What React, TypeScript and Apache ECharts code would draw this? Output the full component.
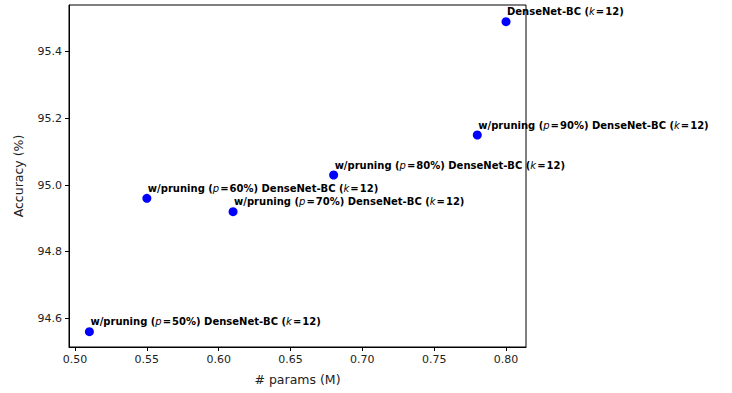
import React, { useEffect, useRef } from "react";
import * as echarts from "echarts";

const paramsM = [0.51, 0.55, 0.61, 0.68, 0.78, 0.8];
const accuracy = [94.56, 94.96, 94.92, 95.03, 95.15, 95.49];
const pruning = ["50%", "60%", "70%", "80%", "90%", ""];
const xTicks = [0.5, 0.55, 0.6, 0.65, 0.7, 0.75, 0.8];
const yTicks = [94.6, 94.8, 95.0, 95.2, 95.4];

const FONT = "DejaVu Sans";

function labelFor(p: string): string {
  const tail = "{b|DenseNet-BC (}{i|k}{e|=}{b|12)}";
  if (!p) return tail;
  return "{b|w/pruning (}{i|p}{e|=}{b|" + p + ") }" + tail;
}

export default function App() {
  const ref = useRef<HTMLDivElement>(null);
  useEffect(() => {
    if (!ref.current) return;
    const chart = echarts.init(ref.current, undefined, { renderer: "svg" });
    const data = paramsM.map((x, i) => ({
      value: [x, accuracy[i]],
      label: { formatter: labelFor(pruning[i]) },
    }));
    chart.setOption({
      animation: false,
      backgroundColor: "#ffffff",
      grid: {
        left: 69,
        right: 206,
        top: 5,
        bottom: 46,
        show: true,
        borderColor: "#000",
        borderWidth: 1,
        backgroundColor: "transparent",
      },
      xAxis: {
        type: "value",
        min: 0.4958,
        max: 0.8139,
        name: "# params (M)",
        nameLocation: "middle",
        nameGap: 26,
        nameTextStyle: { fontFamily: FONT, fontSize: 12.5, color: "#222" },
        axisLine: { show: true, lineStyle: { color: "#000", width: 1 } },
        axisTick: {
          show: true,
          length: 4,
          lineStyle: { color: "#000" },
          customValues: xTicks,
        },
        axisLabel: {
          fontFamily: FONT,
          fontSize: 11,
          color: "#222",
          margin: 7,
          customValues: xTicks,
          formatter: (v: number) => v.toFixed(2),
        },
        splitLine: { show: false },
      },
      yAxis: {
        type: "value",
        min: 94.514,
        max: 95.54,
        name: "Accuracy (%)",
        nameLocation: "middle",
        nameGap: 44,
        nameTextStyle: { fontFamily: FONT, fontSize: 12.5, color: "#222" },
        axisLine: { show: true, lineStyle: { color: "#000", width: 1 } },
        axisTick: {
          show: true,
          length: 4,
          lineStyle: { color: "#000" },
          customValues: yTicks,
        },
        axisLabel: {
          fontFamily: FONT,
          fontSize: 11,
          color: "#222",
          margin: 7,
          customValues: yTicks,
          formatter: (v: number) => v.toFixed(1),
        },
        splitLine: { show: false },
      },
      series: [
        {
          type: "scatter",
          symbolSize: 9,
          itemStyle: { color: "#0000ff", opacity: 1 },
          data,
          label: {
            show: true,
            position: [5.5, -5.5],
            align: "left",
            verticalAlign: "middle",
            rich: {
              b: { fontFamily: FONT, fontSize: 10, fontWeight: "bold", color: "#000" },
              i: { fontFamily: FONT, fontSize: 10, fontStyle: "italic", color: "#000" },
              e: { fontFamily: FONT, fontSize: 10, fontWeight: "bold", color: "#000", padding: [0, 1] },
            },
          },
          emphasis: { disabled: true },
        },
      ],
    });
    return () => chart.dispose();
  }, []);
  return (
    <div
      ref={ref}
      style={{ position: "fixed", left: 0, top: 0, width: 732, height: 393 }}
    />
  );
}
